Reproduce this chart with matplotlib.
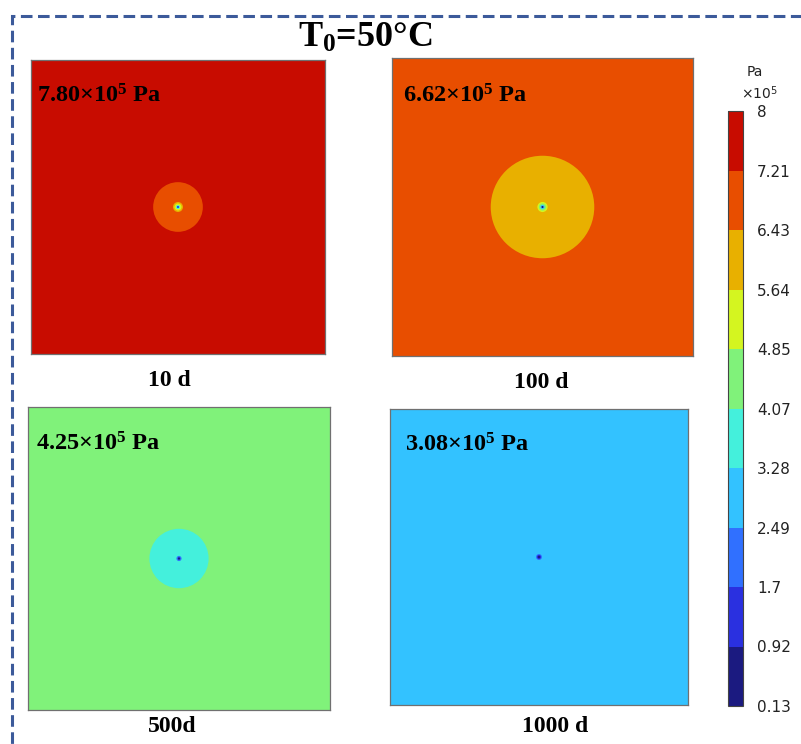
import matplotlib.pyplot as plt
from matplotlib import rcParams
from matplotlib.colors import ListedColormap, BoundaryNorm
from matplotlib.cm import ScalarMappable
from matplotlib.patches import Circle, Rectangle

rcParams['font.family'] = 'Liberation Serif'
rcParams['mathtext.fontset'] = 'custom'
rcParams['mathtext.rm'] = 'Liberation Serif:bold'
rcParams['mathtext.it'] = 'Liberation Serif:bold:italic'
rcParams['mathtext.bf'] = 'Liberation Serif:bold'

# pressure bands (x10^5 Pa)
levels = [0.13, 0.92, 1.7, 2.49, 3.28, 4.07, 4.85, 5.64, 6.43, 7.21, 8]
level_labels = ['0.13', '0.92', '1.7', '2.49', '3.28', '4.07', '4.85',
                '5.64', '6.43', '7.21', '8']
band_colors = ['#1b1a80', '#2a30e0', '#3070ff', '#33c2ff', '#44f0dc',
               '#80f27a', '#d4f520', '#e8b000', '#e84e00', '#c80c00']

times = ['10 d', '100 d', '500d', '1000 d']
far_field = [7.80, 6.62, 4.25, 3.08]

# drawdown rings around the well: outer radius (fraction of domain) and pressure
ring_radius = [
    [0.0845, 0.017, 0.012, 0.007, 0.0035],
    [0.172, 0.017, 0.012, 0.007, 0.0035],
    [0.098, 0.0085, 0.004],
    [0.010, 0.007, 0.004],
]
ring_pressure = [
    [6.80, 6.00, 5.20, 3.70, 1.30],
    [6.00, 5.20, 4.40, 2.90, 0.50],
    [3.70, 2.10, 0.50],
    [2.10, 1.30, 0.50],
]

cmap = ListedColormap(band_colors)
norm = BoundaryNorm(levels, cmap.N)

W, H = 801, 744
fig = plt.figure(figsize=(W / 100, H / 100), dpi=100)


def px_axes(x0, y0, x1, y1):
    return fig.add_axes([x0 / W, 1 - y1 / H, (x1 - x0) / W, (y1 - y0) / H])


def px_text(x, y, s, **kw):
    return fig.text(x / W, 1 - y / H, s, **kw)


# panel boxes in pixels: (left, top, right, bottom)
boxes = [(31, 60, 325, 354), (392, 58, 693, 356),
         (28, 407, 330, 710), (390, 409, 688, 705)]
value_pos = [(37, 96), (403, 96), (36, 444), (405, 445)]
time_pos = [(169, 380), (541, 382), (172, 727), (555, 727)]

for i, box in enumerate(boxes):
    ax = px_axes(*box)
    ax.set_xlim(0, 1)
    ax.set_ylim(0, 1)
    ax.set_xticks([])
    ax.set_yticks([])
    ax.set_facecolor(cmap(norm(far_field[i])))
    for sp in ax.spines.values():
        sp.set_color('#707070')
        sp.set_linewidth(0.9)
    for r, p in zip(ring_radius[i], ring_pressure[i]):
        ax.add_patch(Circle((0.5, 0.5), r, facecolor=cmap(norm(p)),
                            edgecolor='none'))
    px_text(*value_pos[i], f'{far_field[i]:.2f}×10$^5$ Pa',
            ha='left', va='center', fontsize=17.5, fontweight='bold')
    px_text(*time_pos[i], times[i],
            ha='center', va='center', fontsize=17, fontweight='bold')

# colorbar
cax = px_axes(728, 111, 743, 706)
cb = fig.colorbar(ScalarMappable(norm=norm, cmap=cmap), cax=cax,
                  boundaries=levels, ticks=levels)
cb.ax.set_yticklabels(level_labels, fontfamily='DejaVu Sans')
cb.ax.tick_params(length=0, labelsize=11, pad=10, colors='#222222')
cb.outline.set_edgecolor('#444444')
cb.outline.set_linewidth(0.8)
px_text(747, 72, 'Pa', fontsize=10, family='DejaVu Sans',
        ha='left', va='center', color='#222222')
px_text(741, 93, r'×10$^{\mathregular{5}}$', fontsize=10, family='DejaVu Sans',
        ha='left', va='center', color='#222222')

px_text(365, 38, 'T$_0$=50°C', fontsize=26, fontweight='bold',
        ha='center', va='center')

# dashed frame
frame = Rectangle((12 / W, 1 - 840 / H), 900 / W, 824 / H, transform=fig.transFigure,
                  fill=False, edgecolor='#3c5a9a', linewidth=2.2,
                  linestyle=(0, (3.8, 1.8)), clip_on=False)
fig.patches.append(frame)

fig.savefig('out.png', dpi=100)
